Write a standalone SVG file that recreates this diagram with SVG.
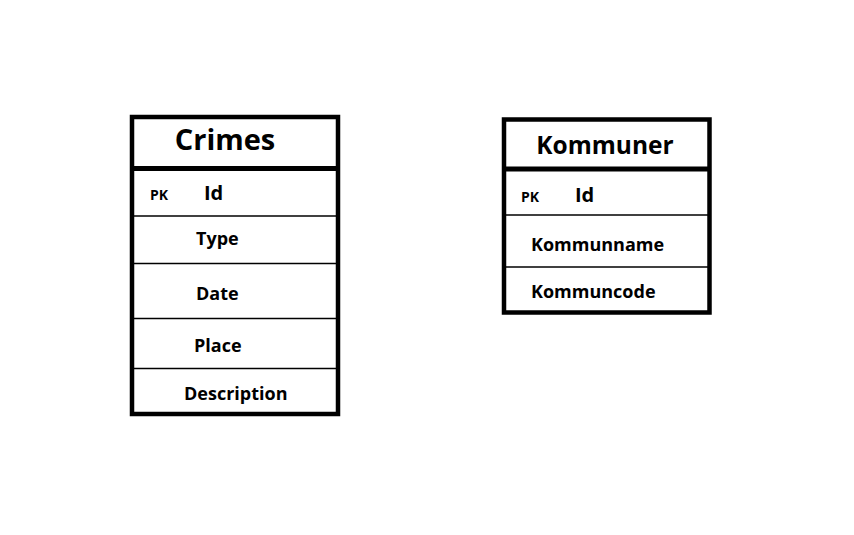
<svg xmlns="http://www.w3.org/2000/svg" width="854" height="535" viewBox="0 0 854 535">
<style>
.box{fill:#fff;stroke:#000;stroke-width:4.5}
.sep{stroke:#000;stroke-width:5}
.row{stroke:#000;stroke-width:1.5}
text{font-family:"Open Sans","Noto Sans","DejaVu Sans",sans-serif;font-weight:700;fill:#000}
.title{font-size:29px}
.pk{font-size:14px}
.id{font-size:20px}
.f{font-size:18px}
</style>
<rect width="854" height="535" fill="#fff"/>
<g id="crimes">
<rect class="box" x="132" y="117" width="206" height="297"/>
<line class="sep" x1="132" y1="168.5" x2="338" y2="168.5"/>
<line class="row" x1="132" y1="216" x2="338" y2="216"/>
<line class="row" x1="132" y1="263.5" x2="338" y2="263.5"/>
<line class="row" x1="132" y1="318.5" x2="338" y2="318.5"/>
<line class="row" x1="132" y1="368.5" x2="338" y2="368.5"/>
<text class="title" x="225" y="150" text-anchor="middle">Crimes</text>
<text class="pk" x="150" y="200">PK</text>
<text class="id" x="204" y="200">Id</text>
<text class="f" x="196" y="245">Type</text>
<text class="f" x="196" y="300">Date</text>
<text class="f" x="194" y="352">Place</text>
<text class="f" x="184" y="400">Description</text>
</g>
<g id="kommuner">
<rect class="box" x="504" y="119.5" width="205.5" height="193"/>
<line class="sep" x1="504" y1="169" x2="709.5" y2="169"/>
<line class="row" x1="504" y1="215" x2="709.5" y2="215"/>
<line class="row" x1="504" y1="267" x2="709.5" y2="267"/>
<text class="title" style="font-size:24.5px" x="605" y="154" text-anchor="middle">Kommuner</text>
<text class="pk" x="521" y="202">PK</text>
<text class="id" x="575" y="202">Id</text>
<text class="f" x="531" y="251">Kommunname</text>
<text class="f" x="531" y="298">Kommuncode</text>
</g>
<g id="connectors"></g>
</svg>
